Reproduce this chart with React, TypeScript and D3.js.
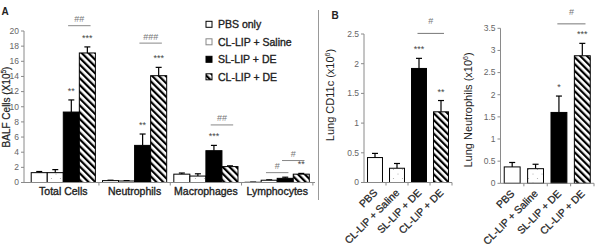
import React from "react";
import * as d3 from "d3";

const groups = ["PBS only", "CL-LIP + Saline", "SL-LIP + DE", "CL-LIP + DE"];
const groupsB = ["PBS", "CL-LIP + Saline", "SL-LIP + DE", "CL-LIP + DE"];

// Panel A: BALF cells (x10^5)
const categoriesA = ["Total Cells", "Neutrophils", "Macrophages", "Lymphocytes"];
const pbsA = [1.3, 0.25, 1.1, 0.03];
const clSalineA = [1.3, 0.2, 0.85, 0.3];
const slDeA = [9.3, 4.9, 4.2, 0.55];
const clDeA = [17.1, 14.1, 2.1, 1.1];
const pbsErrA = [0.15, 0.05, 0.15, 0.02];
const clSalineErrA = [0.4, 0.05, 0.3, 0.05];
const slDeErrA = [1.6, 1.5, 0.7, 0.15];
const clDeErrA = [0.8, 1.1, 0.1, 0.1];
const ticksA = [0, 2, 4, 6, 8, 10, 12, 14, 16, 18, 20];
// stars: [category index, group index, label]
const starsA: [number, number, string][] = [
  [0, 2, "**"], [0, 3, "***"], [1, 2, "**"], [1, 3, "***"], [2, 2, "***"], [3, 3, "**"],
];
// brackets: [category index, from group, to group, level, label]
const bracketsA: [number, number, number, number, string][] = [
  [0, 2, 3, 20.7, "##"], [1, 2, 3, 18.4, "###"], [2, 2, 3, 7.6, "##"],
  [3, 1, 2, 1.3, "#"], [3, 2, 3, 2.9, "#"],
];

// Panel B left: Lung CD11c (x10^6)
const cd11c = [0.42, 0.24, 1.92, 1.19];
const cd11cErr = [0.07, 0.08, 0.17, 0.19];
const ticksB1 = [0, 0.5, 1, 1.5, 2, 2.5];
const starsB1: [number, string][] = [[2, "***"], [3, "**"]];
const bracketsB1: [number, number, number, string][] = [[2, 3, 2.51, "#"]];

// Panel B right: Lung Neutrophils (x10^6)
const lungNeut = [0.37, 0.33, 1.6, 2.88];
const lungNeutErr = [0.1, 0.1, 0.37, 0.28];
const ticksB2 = [0, 0.5, 1, 1.5, 2, 2.5, 3, 3.5];
const starsB2: [number, string][] = [[2, "*"], [3, "***"]];
const bracketsB2: [number, number, number, string][] = [[2, 3, 3.6, "#"]];

const FONT = "Liberation Sans, Arial, sans-serif";
const fills = ["#ffffff", "url(#dots)", "#000000", "url(#hatch)"];
const AXIS = "#8a8a8a";
const TICKTXT = "#666";

function YAxis({ x, y, ticks, fmt }: { x: number; y: d3.ScaleLinear<number, number>; ticks: number[]; fmt: (v: number) => string }) {
  const [y0, y1] = y.range();
  return (
    <g>
      <line x1={x} x2={x} y1={y0} y2={y1} stroke={AXIS} strokeWidth={1} />
      {ticks.map((t) => (
        <g key={t}>
          <line x1={x - 3} x2={x} y1={y(t)} y2={y(t)} stroke={AXIS} strokeWidth={1} />
          <text x={x - 5} y={y(t)} dy="0.33em" textAnchor="end" fontSize={8.5} fill={TICKTXT} fontFamily={FONT}>
            {fmt(t)}
          </text>
        </g>
      ))}
    </g>
  );
}

function Bar({ x, w, y0, y1, fill, yErr }: { x: number; w: number; y0: number; y1: number; fill: string; yErr: number }) {
  const cx = x + w / 2;
  return (
    <g>
      <line x1={cx} x2={cx} y1={y1} y2={yErr} stroke="#000" strokeWidth={1.2} />
      <line x1={cx - 3} x2={cx + 3} y1={yErr} y2={yErr} stroke="#000" strokeWidth={1.2} />
      <rect x={x} y={y1} width={w} height={y0 - y1} fill={fill} stroke="#000" strokeWidth={1} />
    </g>
  );
}

export default function App() {
  // Panel A scales
  const yA = d3.scaleLinear().domain([0, 20]).range([182.5, 31]);
  const xA = d3.scaleBand<string>().domain(categoriesA).range([25.5, 315]).paddingInner(0.1).paddingOuter(0.08);
  const xAi = d3.scaleBand<string>().domain(groups).range([0, xA.bandwidth()]);
  const seriesA = [pbsA, clSalineA, slDeA, clDeA];
  const errA = [pbsErrA, clSalineErrA, slDeErrA, clDeErrA];
  const barX = (ci: number, gi: number) => (xA(categoriesA[ci]) as number) + (xAi(groups[gi]) as number);
  const bwA = xAi.bandwidth();

  // Panel B scales
  const yB1 = d3.scaleLinear().domain([0, 2.5]).range([182.5, 34]);
  const xB1 = d3.scaleBand<string>().domain(groupsB).range([364, 452]).paddingInner(0.32).paddingOuter(0.16);
  const yB2 = d3.scaleLinear().domain([0, 3.5]).range([183.3, 28.3]);
  const xB2 = d3.scaleBand<string>().domain(groupsB).range([500.5, 594]).paddingInner(0.32).paddingOuter(0.16);

  const fmtB = (v: number) => d3.format("~g")(v);

  const panelB = (
    x: d3.ScaleBand<string>,
    y: d3.ScaleLinear<number, number>,
    vals: number[],
    errs: number[],
    ticks: number[],
    stars: [number, string][],
    brackets: [number, number, number, string][],
    label: string,
    labelX: number,
    labelY: number
  ) => {
    const axX = x.range()[0];
    const axEnd = x.range()[1];
    const step = x.step();
    const bw = x.bandwidth();
    const base = y(0);
    return (
      <g>
        {vals.map((v, i) => (
          <Bar key={i} x={x(groupsB[i]) as number} w={bw} y0={base} y1={y(v)} fill={fills[i]} yErr={y(v + errs[i])} />
        ))}
        <YAxis x={axX} y={y} ticks={ticks} fmt={fmtB} />
        <line x1={axX} x2={axEnd} y1={base} y2={base} stroke={AXIS} strokeWidth={1} />
        {groupsB.map((g) => {
          const tx = (x(g) as number) + bw + (step - bw) / 2;
          return <line key={g} x1={tx} x2={tx} y1={base} y2={base + 3} stroke={AXIS} strokeWidth={1} />;
        })}
        {groupsB.map((g) => {
          const cx = (x(g) as number) + bw / 2 + 3;
          const ty = base + 11;
          return (
            <text key={g} transform={`translate(${cx},${ty}) rotate(-45)`} textAnchor="end" fontSize={10.3} fill="#222" stroke="#222" strokeWidth={0.25} fontFamily={FONT}>
              {g}
            </text>
          );
        })}
        {stars.map(([gi, s]) => (
          <text key={"s" + gi} x={(x(groupsB[gi]) as number) + bw / 2} y={y(vals[gi] + errs[gi]) - 6} textAnchor="middle" fontSize={9} fill="#444" fontFamily={FONT}>
            {s}
          </text>
        ))}
        {brackets.map(([a, b, lv, s], k) => {
          const x1 = (x(groupsB[a]) as number) + bw * 0.4;
          const x2 = (x(groupsB[b]) as number) + bw * 0.7;
          return (
            <g key={"b" + k}>
              <line x1={x1} x2={x2} y1={y(lv)} y2={y(lv)} stroke="#777" strokeWidth={1} />
              <text x={(x1 + x2) / 2} y={y(lv) - 9} textAnchor="middle" fontSize={9} fill="#777" fontFamily={FONT}>
                {s}
              </text>
            </g>
          );
        })}
        <text transform={`translate(${labelX},${labelY}) rotate(-90)`} textAnchor="middle" fontSize={11} fill="#222" fontFamily={FONT}>
          {label}
          <tspan dy="-4" fontSize={7}>6</tspan>
          <tspan dy="4">)</tspan>
        </text>
      </g>
    );
  };

  return (
    <div style={{ position: "absolute", left: 0, top: 0 }}>
      <svg width={595} height={249} style={{ display: "block", background: "#fff" }}>
        <defs>
          <pattern id="hatch" patternUnits="userSpaceOnUse" width={4.8} height={4.8} patternTransform="rotate(-45)">
            <rect width={4.8} height={4.8} fill="#fff" />
            <rect x={0} y={0} width={2.2} height={4.8} fill="#000" />
          </pattern>
          <pattern id="dots" patternUnits="userSpaceOnUse" width={9} height={9}>
            <rect width={9} height={9} fill="#fff" />
            <circle cx={2} cy={3} r={0.6} fill="#aaa" />
            <circle cx={6.5} cy={7.5} r={0.6} fill="#aaa" />
          </pattern>
        </defs>

        {/* Panel A */}
        <text x={1.5} y={15} fontSize={10} fontWeight="bold" fill="#222" fontFamily={FONT}>A</text>
        {seriesA.map((ser, gi) =>
          ser.map((v, ci) => (
            <Bar key={gi + "-" + ci} x={barX(ci, gi)} w={bwA} y0={yA(0)} y1={yA(v)} fill={fills[gi]} yErr={yA(v + errA[gi][ci])} />
          ))
        )}
        <YAxis x={24} y={yA} ticks={ticksA} fmt={(v) => String(v)} />
        <line x1={24} x2={315} y1={yA(0)} y2={yA(0)} stroke={AXIS} strokeWidth={1} />
        {categoriesA.map((c) => {
          const tx = (xA(c) as number) + xA.bandwidth() + (xA.step() - xA.bandwidth()) / 2;
          return <line key={c} x1={tx} x2={tx} y1={yA(0)} y2={yA(0) + 3} stroke={AXIS} strokeWidth={1} />;
        })}
        {categoriesA.map((c) => (
          <text key={c} x={(xA(c) as number) + xA.bandwidth() / 2} y={194.5} textAnchor="middle" fontSize={10.5} fill="#222" stroke="#222" strokeWidth={0.35} fontFamily={FONT}>
            {c}
          </text>
        ))}
        {starsA.map(([ci, gi, s], k) => (
          <text key={"sa" + k} x={barX(ci, gi) + bwA / 2} y={yA(seriesA[gi][ci] + errA[gi][ci]) - 6} textAnchor="middle" fontSize={9} fill="#444" fontFamily={FONT}>
            {s}
          </text>
        ))}
        {bracketsA.map(([ci, a, b, lv, s], k) => {
          const x1 = barX(ci, a) + bwA * 0.3;
          const x2 = barX(ci, b) + bwA * 0.7;
          return (
            <g key={"ba" + k}>
              <line x1={x1} x2={x2} y1={yA(lv)} y2={yA(lv)} stroke="#888" strokeWidth={1} />
              <text x={(x1 + x2) / 2} y={yA(lv) - 3.5} textAnchor="middle" fontSize={9} fill="#777" fontFamily={FONT}>
                {s}
              </text>
            </g>
          );
        })}
        <text transform={`translate(9.5,107) rotate(-90)`} textAnchor="middle" fontSize={10} fill="#222" stroke="#222" strokeWidth={0.2} fontFamily={FONT}>
          BALF Cells (X10
          <tspan dy="-3.5" fontSize={6.5}>5</tspan>
          <tspan dy="3.5">)</tspan>
        </text>

        {/* Legend */}
        {groups.map((g, i) => (
          <g key={g} transform={`translate(206,${24.3 + i * 17.5})`}>
            <rect x={0} y={-3} width={6} height={6} fill={fills[i]} stroke={i === 1 ? "#888" : "#000"} strokeWidth={1} />
            <text x={12} y={0} dy="0.36em" fontSize={10.5} fill="#222" stroke="#222" strokeWidth={0.35} fontFamily={FONT}>
              {g}
            </text>
          </g>
        ))}

        {/* Separator */}
        <line x1={318.5} x2={318.5} y1={10} y2={200} stroke="#999" strokeWidth={1} />

        {/* Panel B */}
        <text x={331.5} y={18.5} fontSize={10} fontWeight="bold" fill="#222" fontFamily={FONT}>B</text>
        {panelB(xB1, yB1, cd11c, cd11cErr, ticksB1, starsB1, bracketsB1, "Lung CD11c (x10", 334, 95)}
        {panelB(xB2, yB2, lungNeut, lungNeutErr, ticksB2, starsB2, bracketsB2, "Lung Neutrophils (x10", 472, 110)}
      </svg>
    </div>
  );
}
